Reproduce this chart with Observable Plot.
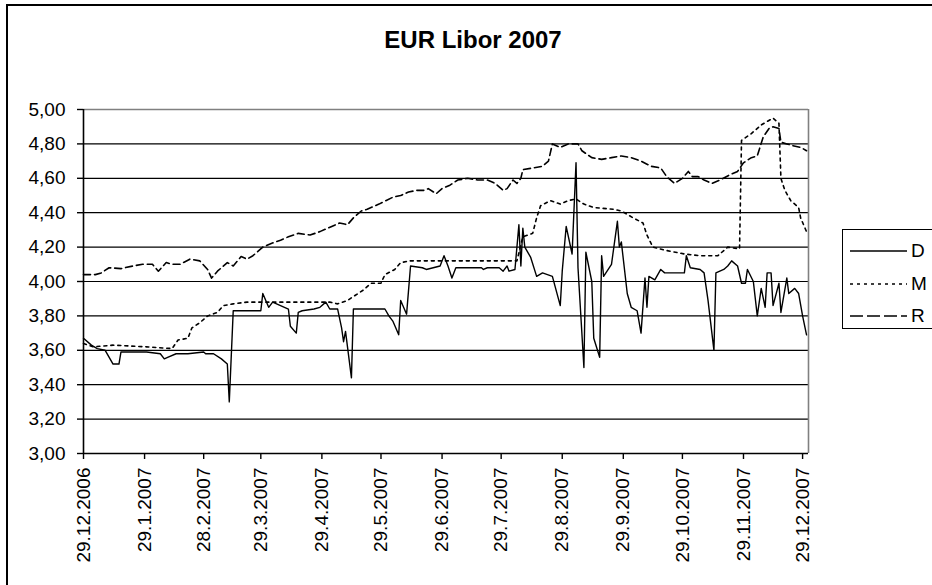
<!DOCTYPE html>
<html>
<head>
<meta charset="utf-8">
<script src="https://cdn.jsdelivr.net/npm/d3@7"></script>
<script src="https://cdn.jsdelivr.net/npm/@observablehq/plot@0.6"></script>
<style>
  html, body { margin: 0; padding: 0; background: #fff; }
  #wrap { position: relative; width: 932px; height: 585px; overflow: hidden; background: #fff; font-family: "Liberation Sans", Arial, sans-serif; }
  #frame { position: absolute; left: 6px; top: 4px; width: 1200px; height: 1000px; border: 2px solid #000; box-sizing: border-box; pointer-events: none; }
  #title { position: absolute; left: 0; width: 946px; top: 28px; text-align: center; font-size: 24px; line-height: 24px; font-weight: bold; color: #000; }
  #legend { position: absolute; left: 842px; top: 229px; width: 140px; height: 100px; border: 1px solid #000; box-sizing: border-box; background: #fff; }
  .lrow { position: absolute; left: 0; height: 24px; display: flex; align-items: center; font-size: 19px; color: #000; }
  .lrow svg { margin-left: 7px; margin-right: 4px; }
</style>
</head>
<body>
<div id="wrap">
  <div id="frame"></div>
  <div id="title">EUR Libor 2007</div>
  <div id="chart"></div>
  <div id="legend"></div>
</div>
<script>
// ---- data ----
const seriesNames = ["D", "M", "R"];

const dSeries = [
  ["2006-12-29",3.67],["2007-01-02",3.63],["2007-01-05",3.61],["2007-01-09",3.60],["2007-01-13",3.52],
  ["2007-01-16",3.52],["2007-01-17",3.59],["2007-01-30",3.59],["2007-02-06",3.58],["2007-02-08",3.55],
  ["2007-02-10",3.56],["2007-02-14",3.58],["2007-02-20",3.58],["2007-02-28",3.59],["2007-03-01",3.58],
  ["2007-03-05",3.58],["2007-03-09",3.55],["2007-03-12",3.52],["2007-03-13",3.30],["2007-03-15",3.83],
  ["2007-03-29",3.83],["2007-03-30",3.93],["2007-04-02",3.85],["2007-04-04",3.88],["2007-04-08",3.86],
  ["2007-04-12",3.84],["2007-04-13",3.74],["2007-04-16",3.70],["2007-04-17",3.82],["2007-04-19",3.83],
  ["2007-04-25",3.84],["2007-04-28",3.85],["2007-05-01",3.88],["2007-05-03",3.84],["2007-05-07",3.84],
  ["2007-05-09",3.73],["2007-05-10",3.65],["2007-05-11",3.71],["2007-05-14",3.44],["2007-05-15",3.84],
  ["2007-05-31",3.84],["2007-06-02",3.80],["2007-06-04",3.77],["2007-06-07",3.69],["2007-06-08",3.89],
  ["2007-06-11",3.81],["2007-06-13",4.09],["2007-06-19",4.08],["2007-06-21",4.07],["2007-06-28",4.09],
  ["2007-06-30",4.15],["2007-07-02",4.09],["2007-07-04",4.02],["2007-07-06",4.08],["2007-07-19",4.08],
  ["2007-07-20",4.07],["2007-07-22",4.08],["2007-07-28",4.08],["2007-07-30",4.06],["2007-08-01",4.09],
  ["2007-08-02",4.06],["2007-08-05",4.07],["2007-08-07",4.33],["2007-08-08",4.09],["2007-08-09",4.31],
  ["2007-08-10",4.20],["2007-08-13",4.14],["2007-08-16",4.03],["2007-08-19",4.05],["2007-08-24",4.03],
  ["2007-08-28",3.86],["2007-08-29",4.06],["2007-08-31",4.32],["2007-09-03",4.16],["2007-09-05",4.69],
  ["2007-09-06",4.08],["2007-09-09",3.50],["2007-09-10",4.17],["2007-09-13",4.00],["2007-09-14",3.67],
  ["2007-09-17",3.56],["2007-09-18",4.15],["2007-09-19",4.03],["2007-09-23",4.10],["2007-09-26",4.35],
  ["2007-09-27",4.20],["2007-09-28",4.23],["2007-10-01",3.93],["2007-10-03",3.85],["2007-10-06",3.83],
  ["2007-10-08",3.70],["2007-10-10",4.02],["2007-10-11",3.85],["2007-10-12",4.03],["2007-10-15",4.01],
  ["2007-10-18",4.07],["2007-10-20",4.05],["2007-10-30",4.05],["2007-10-31",4.15],["2007-11-02",4.08],
  ["2007-11-07",4.07],["2007-11-09",4.05],["2007-11-11",3.89],["2007-11-14",3.60],["2007-11-15",4.05],
  ["2007-11-19",4.07],["2007-11-21",4.09],["2007-11-23",4.12],["2007-11-26",4.09],["2007-11-28",3.99],
  ["2007-11-30",3.99],["2007-12-01",4.07],["2007-12-04",4.00],["2007-12-06",3.80],["2007-12-08",3.96],
  ["2007-12-10",3.85],["2007-12-11",4.05],["2007-12-13",4.05],["2007-12-14",3.86],["2007-12-17",3.99],
  ["2007-12-18",3.82],["2007-12-21",4.02],["2007-12-22",3.93],["2007-12-25",3.96],["2007-12-27",3.93],
  ["2007-12-29",3.80],["2007-12-31",3.69]
];

const mSeries = [
  ["2006-12-29",3.64],["2007-01-03",3.62],["2007-01-13",3.63],["2007-01-30",3.62],["2007-02-12",3.61],
  ["2007-02-15",3.66],["2007-02-20",3.67],["2007-02-22",3.73],["2007-02-26",3.76],["2007-03-02",3.80],
  ["2007-03-07",3.82],["2007-03-10",3.86],["2007-03-15",3.87],["2007-03-22",3.88],["2007-05-03",3.88],
  ["2007-05-07",3.87],["2007-05-12",3.89],["2007-05-16",3.92],["2007-05-20",3.95],["2007-05-24",3.99],
  ["2007-05-29",3.99],["2007-05-31",4.04],["2007-06-05",4.07],["2007-06-08",4.11],["2007-06-13",4.12],
  ["2007-08-06",4.12],["2007-08-09",4.26],["2007-08-14",4.28],["2007-08-16",4.37],["2007-08-18",4.44],
  ["2007-08-23",4.47],["2007-08-28",4.45],["2007-09-01",4.47],["2007-09-05",4.48],["2007-09-09",4.45],
  ["2007-09-14",4.43],["2007-09-24",4.42],["2007-09-28",4.41],["2007-10-04",4.37],["2007-10-09",4.34],
  ["2007-10-11",4.27],["2007-10-14",4.20],["2007-10-21",4.18],["2007-10-30",4.16],["2007-11-07",4.15],
  ["2007-11-16",4.15],["2007-11-21",4.20],["2007-11-27",4.19],["2007-11-28",4.82],["2007-12-03",4.86],
  ["2007-12-08",4.91],["2007-12-14",4.95],["2007-12-17",4.92],["2007-12-18",4.60],["2007-12-20",4.53],
  ["2007-12-23",4.47],["2007-12-27",4.43],["2007-12-28",4.37],["2007-12-31",4.29]
];

const rSeries = [
  ["2006-12-29",4.04],["2007-01-04",4.04],["2007-01-07",4.05],["2007-01-11",4.08],["2007-01-17",4.075],
  ["2007-01-23",4.09],["2007-01-28",4.10],["2007-02-02",4.10],["2007-02-05",4.06],["2007-02-09",4.11],
  ["2007-02-12",4.10],["2007-02-16",4.10],["2007-02-21",4.13],["2007-02-26",4.12],["2007-03-02",4.07],
  ["2007-03-04",4.02],["2007-03-07",4.06],["2007-03-12",4.11],["2007-03-15",4.09],["2007-03-19",4.145],
  ["2007-03-22",4.13],["2007-03-25",4.15],["2007-03-30",4.20],["2007-04-03",4.22],["2007-04-08",4.24],
  ["2007-04-12",4.26],["2007-04-17",4.28],["2007-04-23",4.27],["2007-04-28",4.29],["2007-05-02",4.31],
  ["2007-05-08",4.34],["2007-05-12",4.33],["2007-05-15",4.37],["2007-05-19",4.41],["2007-05-22",4.42],
  ["2007-05-28",4.45],["2007-06-04",4.49],["2007-06-08",4.50],["2007-06-12",4.52],["2007-06-16",4.53],
  ["2007-06-20",4.53],["2007-06-22",4.54],["2007-06-26",4.51],["2007-06-29",4.54],["2007-07-03",4.56],
  ["2007-07-07",4.59],["2007-07-12",4.60],["2007-07-17",4.59],["2007-07-22",4.59],["2007-07-26",4.57],
  ["2007-07-30",4.53],["2007-08-01",4.54],["2007-08-04",4.59],["2007-08-06",4.57],["2007-08-08",4.60],
  ["2007-08-09",4.65],["2007-08-14",4.66],["2007-08-19",4.67],["2007-08-22",4.70],["2007-08-24",4.80],
  ["2007-08-28",4.78],["2007-09-01",4.80],["2007-09-06",4.80],["2007-09-08",4.76],["2007-09-13",4.72],
  ["2007-09-18",4.71],["2007-09-23",4.72],["2007-09-28",4.73],["2007-10-03",4.72],["2007-10-08",4.70],
  ["2007-10-13",4.67],["2007-10-18",4.66],["2007-10-21",4.61],["2007-10-25",4.57],["2007-10-29",4.60],
  ["2007-11-01",4.64],["2007-11-03",4.61],["2007-11-06",4.61],["2007-11-09",4.59],["2007-11-13",4.57],
  ["2007-11-17",4.59],["2007-11-22",4.62],["2007-11-26",4.64],["2007-11-29",4.69],["2007-12-03",4.72],
  ["2007-12-06",4.73],["2007-12-09",4.84],["2007-12-12",4.89],["2007-12-14",4.90],["2007-12-17",4.89],
  ["2007-12-18",4.81],["2007-12-21",4.80],["2007-12-24",4.79],["2007-12-28",4.78],["2007-12-31",4.76]
];

const yTickValues = [3.0, 3.2, 3.4, 3.6, 3.8, 4.0, 4.2, 4.4, 4.6, 4.8, 5.0];
const xTickDates = ["2006-12-29","2007-01-29","2007-02-28","2007-03-29","2007-04-29","2007-05-29",
                    "2007-06-29","2007-07-29","2007-08-29","2007-09-29","2007-10-29","2007-11-29","2007-12-29"];
const xDomain = ["2006-12-29", "2008-01-01"];
const yDomain = [3, 5];

// ---- build ----
const toRows = (arr, name) => arr.map(([d, v]) => ({date: new Date(d + "T00:00:00Z"), value: v, series: name}));
const rowsD = toRows(dSeries, "D");
const rowsM = toRows(mSeries, "M");
const rowsR = toRows(rSeries, "R");
const xTicks = xTickDates.map(d => new Date(d + "T00:00:00Z"));
const xDom = xDomain.map(d => new Date(d + "T00:00:00Z"));

const fmtDate = d => `${d.getUTCDate()}.${d.getUTCMonth() + 1}.${d.getUTCFullYear()}`;
const fmtNum = v => v.toFixed(2).replace(".", ",");

const styles = {
  D: {strokeDasharray: null, strokeWidth: 1.4},
  M: {strokeDasharray: "3,4", strokeWidth: 1.6},
  R: {strokeDasharray: "7,4", strokeWidth: 1.6}
};

const chart = Plot.plot({
  width: 932,
  height: 585,
  marginLeft: 83,
  marginRight: 124,
  marginTop: 109,
  marginBottom: 132,
  style: {fontFamily: "'Liberation Sans', Arial, sans-serif", fontSize: "19px", color: "#000", background: "transparent", overflow: "visible"},
  x: {type: "utc", domain: xDom, range: [83, 808], label: null},
  y: {domain: yDomain, label: null},
  marks: [
    Plot.ruleY(yTickValues.filter(v => v > 3 && v < 5), {stroke: "#000", strokeWidth: 1.2, strokeOpacity: 1}),
    Plot.ruleY([5], {stroke: "#808080", strokeWidth: 1.6}),
    Plot.ruleX([xDom[1]], {stroke: "#808080", strokeWidth: 1.6}),
    Plot.axisY({ticks: yTickValues, tickFormat: fmtNum, tickSize: 6, tickPadding: 12, fontSize: 19, stroke: "#000", strokeWidth: 1.4, label: null}),
    Plot.axisX({ticks: xTicks, tickFormat: fmtDate, tickSize: 6, tickPadding: 8, tickRotate: -90, fontSize: 19, stroke: "#000", strokeWidth: 1.4, label: null}),
    Plot.ruleX([xDom[0]], {stroke: "#000", strokeWidth: 1.6}),
    Plot.ruleY([3], {stroke: "#000", strokeWidth: 1.6}),
    Plot.lineY(rowsD, {x: "date", y: "value", stroke: "#000", strokeWidth: styles.D.strokeWidth}),
    Plot.lineY(rowsM, {x: "date", y: "value", stroke: "#000", strokeWidth: styles.M.strokeWidth, strokeDasharray: styles.M.strokeDasharray}),
    Plot.lineY(rowsR, {x: "date", y: "value", stroke: "#000", strokeWidth: styles.R.strokeWidth, strokeDasharray: styles.R.strokeDasharray})
  ]
});
document.getElementById("chart").appendChild(chart);

// legend
const legend = document.getElementById("legend");
seriesNames.forEach((name, i) => {
  const row = document.createElement("div");
  row.className = "lrow";
  row.style.top = (9 + i * 32.5) + "px";
  const s = styles[name];
  row.innerHTML = `<svg width="57" height="10"><line x1="0" x2="57" y1="5" y2="5" stroke="#000" stroke-width="${s.strokeWidth}" ${s.strokeDasharray ? `stroke-dasharray="${name === "R" ? "13,4" : s.strokeDasharray}"` : ""}/></svg><span>${name}</span>`;
  legend.appendChild(row);
});
</script>
</body>
</html>
